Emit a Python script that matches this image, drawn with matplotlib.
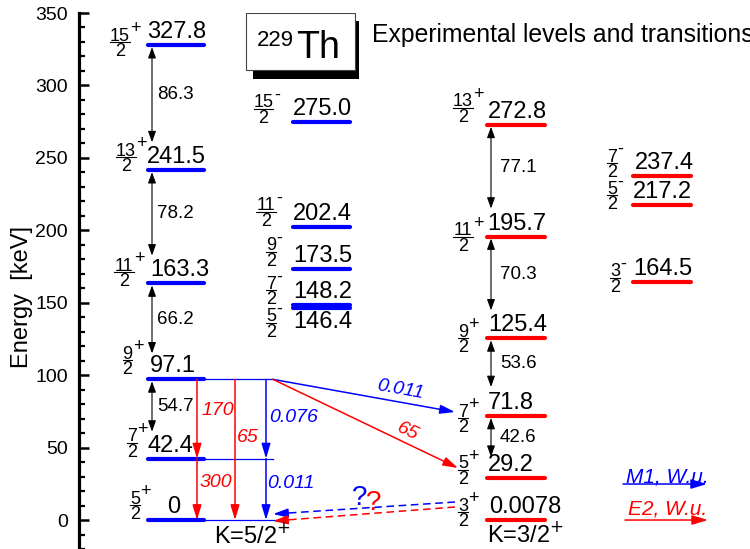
import math
import matplotlib
matplotlib.use("Agg")
import matplotlib.pyplot as plt
from matplotlib.patches import Rectangle, ArrowStyle
from matplotlib.ticker import MultipleLocator

plt.rcParams['font.family'] = ['Liberation Sans', 'DejaVu Sans']

# ground-state band K=5/2+ (spins are numerators of j/2)
gs_energy = [0, 42.4, 97.1, 163.3, 241.5, 327.8]
gs_text = ["0", "42.4", "97.1", "163.3", "241.5", "327.8"]
gs_spin = [5, 7, 9, 11, 13, 15]
# negative parity levels next to it
n1_energy = [146.4, 148.2, 173.5, 202.4, 275.0]
n1_text = ["146.4", "148.2", "173.5", "202.4", "275.0"]
n1_spin = [5, 7, 9, 11, 15]
# isomer band K=3/2+
iso_energy = [0.0078, 29.2, 71.8, 125.4, 195.7, 272.8]
iso_text = ["0.0078", "29.2", "71.8", "125.4", "195.7", "272.8"]
iso_spin = [3, 5, 7, 9, 11, 13]
# negative parity levels, right
n2_energy = [164.5, 217.2, 237.4]
n2_text = ["164.5", "217.2", "237.4"]
n2_spin = [3, 5, 7]

# inter-band transitions, B values in W.u.
e2_from = [97.1, 42.4, 97.1, 97.1]
e2_to = [42.4, 0, 0, 29.2]
e2_bwu = ["170", "300", "65", "65"]
m1_from = [97.1, 42.4, 97.1]
m1_to = [42.4, 0, 71.8]
m1_bwu = ["0.076", "0.011", "0.011"]

BLUE = "#0000ff"
RED = "#ff0000"
KPX = 370 / 536.0  # keV per pixel


def py(p):
    return (520 - p) * KPX


def up(e, px):
    return e + px * KPX


fig = plt.figure(figsize=(7.5, 5.49), dpi=100)
ax = fig.add_axes([79 / 750, 0, 671 / 750, 536 / 549])
ax.set_xlim(79, 750)
ax.set_ylim(-20, 350)
for s in ["top", "right", "bottom"]:
    ax.spines[s].set_visible(False)
ax.spines["left"].set_linewidth(2.3)
ax.xaxis.set_visible(False)
ax.yaxis.set_major_locator(MultipleLocator(50))
ax.yaxis.set_minor_locator(MultipleLocator(10))
ax.tick_params(axis="y", which="major", direction="in", length=7.5, width=1.8,
               labelsize=14, pad=8)
ax.tick_params(axis="y", which="minor", direction="in", length=4, width=1.6)
ax.set_ylabel("Energy  [keV]", fontsize=17)
ax.yaxis.set_label_coords(-0.069, 0.47)

head = ArrowStyle("-|>", head_length=0.6, head_width=0.18)
dhead = ArrowStyle("<|-|>", head_length=0.55, head_width=0.2)


def arrow(x0, e0, x1, e1, color, lw=1.1, ms=15, style=head):
    ax.annotate("", xy=(x1, e1), xytext=(x0, e0),
                arrowprops=dict(arrowstyle=style, color=color, lw=lw,
                                mutation_scale=ms, shrinkA=0, shrinkB=0))


def spin(xc, ebar, num, parity, fs=13):
    w = 9.8 * len(str(num))
    ax.text(xc, up(ebar, 1.5), str(num), ha="center", va="baseline", fontsize=fs)
    ax.plot([xc - w / 2, xc + w / 2], [ebar, ebar], color="k", lw=0.8)
    ax.text(xc, up(ebar, -14), "2", ha="center", va="baseline", fontsize=fs)
    ax.text(xc + w / 2 + 0.5, up(ebar, 9), parity, ha="left", va="baseline",
            fontsize=fs)


def levels(energy, text, spins, parity, x0, x1, color, tx, bar_off, sx,
           below=()):
    for i, e in enumerate(energy):
        ax.plot([x0, x1], [e, e], color=color, lw=3.0, solid_capstyle="round")
        if text[i] in below:
            ax.text(tx[i], up(e, -3), text[i], fontsize=17, va="top")
        else:
            ax.text(tx[i], up(e, 7), text[i], fontsize=17, va="baseline")
        spin(sx[i], up(e, bar_off[i]), spins[i], parity)


levels(gs_energy, gs_text, gs_spin, "+", 148, 204, BLUE,
       [167, 148, 150, 150, 147, 147], [15, 16, 19, 11, 13, 3],
       [135, 132, 127.5, 124, 126, 120])
levels(n1_energy, n1_text, n1_spin, "-", 293, 350, BLUE,
       [293] * 5, [-15, 15, 17, 15, 13], [271, 271, 271, 266, 263.5],
       below=("146.4",))
levels(iso_energy, iso_text, iso_spin, "+", 487, 545, RED,
       [489, 488, 488, 488, 487, 488], [8, 8, -2, 0, 0, 17], [463] * 6)
levels(n2_energy, n2_text, n2_spin, "-", 633, 691, RED,
       [633, 633, 635], [4, 10, 13], [615, 612, 612])

# in-band cascades (from the first excited member upwards)
for energy, x, lx, bot in [(gs_energy, 152, 157, [27, 26, 28, 28]),
                           (iso_energy, 491, 500, [21, 29, 28, 28])]:
    for i in range(1, len(energy) - 1):
        lo, hi = energy[i], energy[i + 1]
        e_top = up(hi, -2)
        e_bot = up(lo, bot[i - 1])
        arrow(x, e_top, x, e_bot, "k", lw=0.8, ms=12, style=dhead)
        ax.text(lx, (e_top + e_bot) / 2, "%.1f" % (hi - lo), fontsize=13.5,
                va="center", ha="left")

# thin blue feeding lines of the ground band
for e, x1 in [(97.1, 273), (42.4, 273), (0, 276)]:
    ax.plot([204, x1], [e, e], color=BLUE, lw=0.9)

# vertical transitions inside K=5/2 band
e2_x = [197, 197, 235]
e2_lab = [(201, 410), (200, 482), (237, 437)]
for i in range(3):
    arrow(e2_x[i], e2_from[i], e2_x[i], e2_to[i], RED)
    ax.text(e2_lab[i][0], py(e2_lab[i][1]), e2_bwu[i], color=RED,
            fontsize=14, style="italic", va="center")
m1_lab = [(269, 417), (267, 483)]
for i in range(2):
    arrow(266, m1_from[i], 266, m1_to[i], BLUE)
    ax.text(m1_lab[i][0], py(m1_lab[i][1]), m1_bwu[i], color=BLUE,
            fontsize=14, style="italic", va="center")


# inter-band transitions to K=3/2 band
def slanted(e0, x1, e1, color, label, lab_xy):
    arrow(273, e0, x1, e1, color)
    ang = math.degrees(math.atan2((e1 - e0) / KPX, x1 - 273))
    ax.text(lab_xy[0], py(lab_xy[1]), label, color=color, fontsize=14,
            style="italic", ha="center", va="center", rotation=ang,
            rotation_mode="anchor")


slanted(m1_from[2], 455, up(m1_to[2], 4), BLUE, m1_bwu[2], (400, 390))
slanted(e2_from[3], 458, up(e2_to[3], 9.7), RED, e2_bwu[3], (408, 432))

# possible isomer decay (dashed)
for color, e_s, e_t in [(BLUE, up(iso_energy[0], 18), up(0, 6)),
                        (RED, up(iso_energy[0], 13), up(0, -1))]:
    ax.plot([455, 285], [e_s, e_t + (e_s - e_t) * 12 / 182], color=color,
            lw=1.1, ls=(0, (5, 3)))
    arrow(288, e_t + (e_s - e_t) * 15 / 182, 273, e_t, color)
ax.text(360, py(498), "?", color=BLUE, fontsize=20, ha="center", va="center")
ax.text(374, py(503), "?", color=RED, fontsize=20, ha="center", va="center")

# band heads
ax.text(214, py(543), r"K=5/2$^{+}$", fontsize=17, va="baseline")
ax.text(487, py(542), r"K=3/2$^{+}$", fontsize=17, va="baseline")

# legend
ax.text(626, py(482), "M1, W.u.", color=BLUE, fontsize=15, style="italic",
        va="baseline")
arrow(623, py(484), 707, py(484), BLUE, ms=16)
ax.text(628, py(514), "E2, W.u.", color=RED, fontsize=15, style="italic",
        va="baseline")
arrow(625, py(520), 708, py(520), RED, ms=16)

# title box with shadow
ax.add_patch(Rectangle((253, py(79)), 106, 58 * KPX, facecolor="k",
                       edgecolor="none", zorder=3))
ax.add_patch(Rectangle((246, py(70)), 109, 57 * KPX, facecolor="white",
                       edgecolor="#444444", lw=0.8, zorder=4))
ax.text(257, py(30), "229", fontsize=16, va="top", zorder=5)
ax.text(296, py(30), "Th", fontsize=27, va="top", zorder=5)
ax.text(372, py(42), "Experimental levels and transitions", fontsize=17.8,
        va="baseline")

fig.savefig("out.png", dpi=100)
